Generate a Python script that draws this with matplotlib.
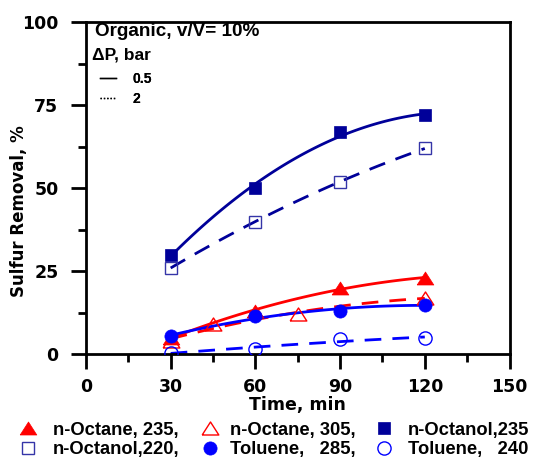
import numpy as np
import matplotlib
matplotlib.use("Agg")
import matplotlib.pyplot as plt
from matplotlib.lines import Line2D

plt.rcParams['font.family'] = ['Liberation Sans', 'DejaVu Sans']
plt.rcParams['font.weight'] = 'bold'

# Measured sulfur removal (%) vs time (min)
oct235_t = [30, 60, 90, 120]
oct235_y = [5, 13, 20, 23]
oct305_t = [30, 45, 75, 120]
oct305_y = [4, 9, 12, 17]
ol235_t = [30, 60, 90, 120]
ol235_y = [30, 50, 67, 72]
ol220_t = [30, 60, 90, 120]
ol220_y = [26, 40, 52, 62]
tol285_t = [30, 60, 90, 120]
tol285_y = [5.5, 11.5, 13, 15]
tol240_t = [30, 60, 90, 120]
tol240_y = [0.5, 1.5, 4.5, 5]

labels = ["n-Octane, 235,", "n-Octane, 305,", "n-Octanol,235",
          "n-Octanol,220,", "Toluene,   285,", "Toluene,   240"]

RED = "#ff0000"
NAVY = "#000099"
BLUE = "#0000ff"
NAVY_OPEN = "#3535a8"
DASH = (0, (6, 4))
TRI = [(-1, -0.78), (1, -0.78), (0, 0.78), (-1, -0.78)]

series = [
    (oct235_t, oct235_y, RED, RED, TRI, 12, True, '-'),
    (oct305_t, oct305_y, RED, RED, TRI, 12, False, DASH),
    (ol235_t, ol235_y, NAVY, NAVY, 's', 9, True, '-'),
    (ol220_t, ol220_y, NAVY_OPEN, NAVY, 's', 9, False, DASH),
    (tol285_t, tol285_y, BLUE, BLUE, 'o', 9.5, True, '-'),
    (tol240_t, tol240_y, BLUE, BLUE, 'o', 9.5, False, DASH),
]

fig = plt.figure(figsize=(5.37, 4.61), dpi=100)
ax = fig.add_axes([0.1601, 0.2314, 0.7887, 0.7202])

handles = []
for (t, y, mc, lc, m, ms, filled, ls) in series:
    # quadratic trend line through each data set
    coef = np.polyfit(t, y, 2)
    tt = np.linspace(min(t), max(t), 100)
    ax.plot(tt, np.polyval(coef, tt), color=lc, lw=2.0, ls=ls, zorder=2)
    if filled:
        h, = ax.plot(t, y, ls='none', marker=m, ms=ms, mfc=mc, mec=mc, mew=0.5, zorder=3)
    else:
        h, = ax.plot(t, y, ls='none', marker=m, ms=ms, mfc='none', mec=mc, mew=1.0, zorder=3)
    handles.append(h)

ax.set_xlim(0, 150)
ax.set_ylim(0, 100)
ax.set_xticks([0, 30, 60, 90, 120, 150])
ax.set_xticks([15, 45, 75, 105, 135], minor=True)
ax.set_yticks([0, 25, 50, 75, 100])
ax.set_yticks([12.5, 37.5, 62.5, 87.5], minor=True)
for s in ax.spines.values():
    s.set_linewidth(2.0)
ax.tick_params(which='major', direction='out', length=10.8, width=2.0)
ax.tick_params(which='minor', direction='out', length=6, width=2.0)
ax.tick_params(axis='x', which='major', pad=6)
ax.tick_params(axis='y', which='major', pad=9)
tick_font = {'family': 'DejaVu Sans', 'weight': 'bold', 'size': 12.5}
for lab in ax.get_xticklabels() + ax.get_yticklabels():
    lab.set_fontproperties(tick_font)
ax.set_xlabel("Time, min", fontdict=tick_font, labelpad=0)
ax.set_ylabel("Sulfur Removal, %", fontdict={'family': 'DejaVu Sans', 'weight': 'bold', 'size': 12})
ax.yaxis.set_label_coords(-0.158, 0.432)
ax.yaxis.label.set_va('center')

ax.text(0.021, 0.972, "Organic, v/V= 10%", transform=ax.transAxes,
        fontsize=13.6, fontweight='bold', va='center', ha='left')
ax.text(0.015, 0.9015, "\u0394P, bar", transform=ax.transAxes,
        fontsize=12.5, fontweight='bold', va='center', ha='left')
dp_handles = [Line2D([], [], color='black', lw=1.0, ls='-'),
              Line2D([], [], color='black', lw=1.0, ls=(0, (1, 1.4)))]
leg1 = ax.legend(dp_handles, ["0.5", "2"], loc='upper left',
                 bbox_to_anchor=(0.033, 0.850), frameon=False, borderpad=0,
                 borderaxespad=0, handlelength=1.15, handletextpad=1.2,
                 labelspacing=0.42, prop={'weight': 'bold', 'size': 10})
ax.add_artist(leg1)

# legend below the plot: three columns of two entries
W, H = 537.0, 461.0
cols = [(18.75, 0.87, [0, 3]), (200.75, 0.58, [1, 4]), (375.25, 0.77, [2, 5])]
for x0, pad, idx in cols:
    fig.legend([handles[i] for i in idx], [labels[i] for i in idx],
               loc='center left', bbox_to_anchor=(x0 / W, 1 - 440 / H),
               frameon=False, borderpad=0, borderaxespad=0,
               prop={'weight': 'bold', 'size': 13.2}, handlelength=1.0,
               handletextpad=pad, labelspacing=0.15)

fig.savefig("out.png", dpi=100)
